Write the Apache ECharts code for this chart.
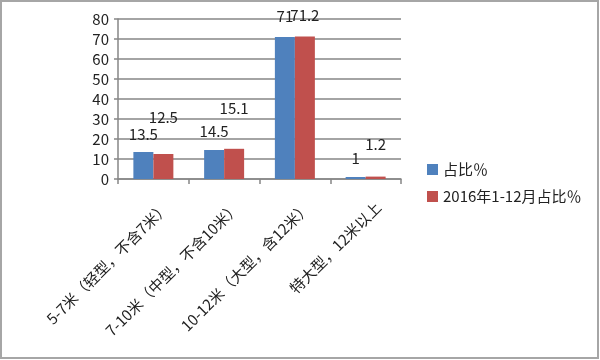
<!DOCTYPE html>
<html><head><meta charset="utf-8">
<script src="https://cdn.jsdelivr.net/npm/echarts@6/dist/echarts.min.js"></script>
<style>html,body{margin:0;padding:0;background:#fff}#c{width:600px;height:360px}</style>
</head><body><div id="c"></div>
<script>
var categories = ['5-7米（轻型，不含7米）', '7-10米（中型，不含10米）', '10-12米（大型，含12米）', '特大型，12米以上'];
var seriesNames = ['占比％', '2016年1-12月占比％'];
var share = [13.5, 14.5, 71, 1];
var share2016 = [12.5, 15.1, 71.2, 1.2];
var yTicks = [0, 10, 20, 30, 40, 50, 60, 70, 80];

var font = '"Noto Sans CJK SC", "Noto Sans", sans-serif';
var blueDist = [10, 11, 13, 11];
var redDist = [29, 33, 14, 25];

var chart = echarts.init(document.getElementById('c'));
chart.setOption({
  animation: false,
  textStyle: { fontFamily: font },
  graphic: [{ type: 'rect', shape: { x: 1, y: 1, width: 597, height: 357 }, style: { fill: 'none', stroke: '#a6a6a6', lineWidth: 2 }, silent: true }],
  grid: { left: 118, right: 199, top: 19, bottom: 181 },
  legend: {
    orient: 'vertical', left: 422, top: 157, itemWidth: 11, itemHeight: 11, itemGap: 12,
    icon: 'rect',
    textStyle: { fontSize: 15, color: '#222', fontFamily: font },
    data: seriesNames
  },
  xAxis: {
    type: 'category', data: categories,
    axisLine: { lineStyle: { color: '#868686', width: 1.5 } },
    axisTick: { show: true, length: 5, lineStyle: { color: '#868686', width: 1.5 } },
    axisLabel: { rotate: 45, fontSize: 15, color: '#222', margin: 13, lineHeight: 36, verticalAlign: 'top', interval: 0, fontFamily: font }
  },
  yAxis: {
    type: 'value', min: yTicks[0], max: yTicks[yTicks.length - 1], interval: 10,
    axisLine: { show: true, lineStyle: { color: '#868686', width: 1.5 } },
    axisTick: { show: true, length: 4, lineStyle: { color: '#868686', width: 1.5 } },
    splitLine: { lineStyle: { color: '#868686', width: 1.5 } },
    axisLabel: { fontSize: 15, color: '#222', margin: 9, fontFamily: font }
  },
  series: [
    {
      name: seriesNames[0], type: 'bar', barWidth: 20, barGap: '0%',
      itemStyle: { color: '#4F81BD' },
      data: share.map(function (v, i) {
        return { value: v, label: { show: true, position: 'top', distance: blueDist[i] } };
      }),
      label: { fontSize: 15, color: '#222', fontFamily: font }
    },
    {
      name: seriesNames[1], type: 'bar', barWidth: 20, barGap: '0%',
      itemStyle: { color: '#C0504D' },
      data: share2016.map(function (v, i) {
        return { value: v, label: { show: true, position: 'top', distance: redDist[i] } };
      }),
      label: { fontSize: 15, color: '#222', fontFamily: font }
    }
  ]
});
</script></body></html>
